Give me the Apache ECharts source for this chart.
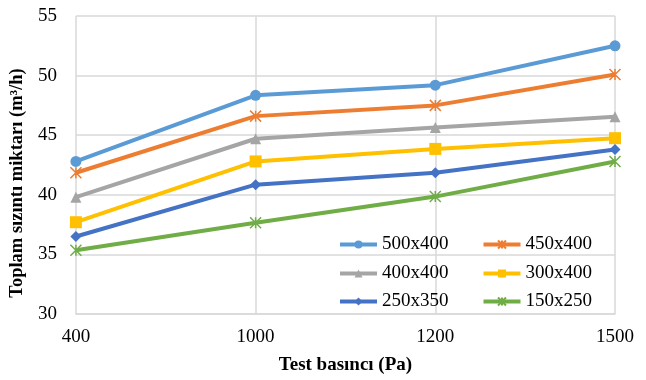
<!DOCTYPE html>
<html><head><meta charset="utf-8">
<script src="https://cdn.jsdelivr.net/npm/echarts@6/dist/echarts.min.js"></script>
<style>html,body{margin:0;padding:0;background:#fff}#c{width:646px;height:380px}</style>
</head><body><div id="c"></div>
<script>
const categories = ['400', '1000', '1200', '1500'];
const s500x400 = [42.8, 48.35, 49.2, 52.5];
const s450x400 = [41.85, 46.6, 47.5, 50.1];
const s400x400 = [39.8, 44.7, 45.65, 46.55];
const s300x400 = [37.7, 42.8, 43.85, 44.75];
const s250x350 = [36.5, 40.85, 41.85, 43.8];
const s150x250 = [35.35, 37.65, 39.85, 42.8];
const seriesNames = ['500x400', '450x400', '400x400', '300x400', '250x350', '150x250'];
const yTicks = [30, 35, 40, 45, 50, 55];

const font = '"Liberation Serif", "Times New Roman", serif';
const star = 'path://M0,0 L10,10 M10,0 L0,10 M5,0 L5,10';
const colors = ['#5B9BD5', '#ED7D31', '#A5A5A5', '#FFC000', '#4472C4', '#70AD47'];
const symbols = ['circle', star, 'triangle', 'rect', 'diamond', star];
const sizes = [11, 11, 11, 12, 11, 11];
const dataSets = [s500x400, s450x400, s400x400, s300x400, s250x350, s150x250];

const series = dataSets.map((d, i) => {
  const isStar = symbols[i] === star;
  return {
    name: seriesNames[i], type: 'line', data: d,
    symbol: symbols[i], symbolSize: sizes[i], showAllSymbol: true,
    lineStyle: { color: colors[i], width: 4 },
    itemStyle: isStar ? { color: 'none', borderColor: colors[i], borderWidth: 1.5 } : { color: colors[i], borderWidth: 0 },
    emphasis: { disabled: true }
  };
});

const legendBase = {
  orient: 'horizontal', itemWidth: 37, itemHeight: 10, itemGap: 33, padding: 0,
  lineStyle: { width: 4 },
  textStyle: { fontFamily: font, fontSize: 19, color: '#000' }, selectedMode: false
};
const chart = echarts.init(document.getElementById('c'));
chart.setOption({
  animation: false,
  color: colors,
  grid: { left: 73, right: 31, top: 16, bottom: 65 },
  xAxis: {
    type: 'category', data: categories, boundaryGap: false,
    axisLine: { lineStyle: { color: '#D9D9D9', width: 1.5 } },
    axisTick: { show: false },
    splitLine: { show: true, lineStyle: { color: '#D9D9D9', width: 1.5 } },
    axisLabel: { fontFamily: font, fontSize: 19, color: '#000', margin: 14 },
    name: 'Test basıncı (Pa)', nameLocation: 'middle', nameGap: 42,
    nameTextStyle: { fontFamily: font, fontSize: 19, fontWeight: 'bold', color: '#000' }
  },
  yAxis: {
    type: 'value', min: 30, max: 55, interval: 5,
    axisLine: { show: false }, axisTick: { show: false },
    splitLine: { lineStyle: { color: '#D9D9D9', width: 1.5 } },
    axisLabel: { fontFamily: font, fontSize: 19, color: '#000', margin: 19 },
    name: 'Toplam sızıntı miktarı (m³/h)', nameLocation: 'middle', nameGap: 42, nameRotate: 90,
    nameTextStyle: { fontFamily: font, fontSize: 18.5, fontWeight: 'bold', color: '#000', padding: [0, 36, 0, 0] }
  },
  legend: [
    Object.assign({}, legendBase, { left: 338, top: 235, data: [seriesNames[0], seriesNames[1]] }),
    Object.assign({}, legendBase, { left: 338, top: 264, data: [seriesNames[2], seriesNames[3]] }),
    Object.assign({}, legendBase, { left: 338, top: 292, data: [seriesNames[4], seriesNames[5]] })
  ],
  series: series
});
</script></body></html>
